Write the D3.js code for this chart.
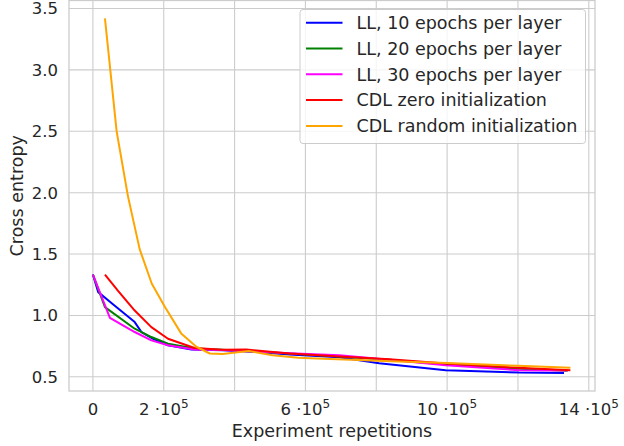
<!DOCTYPE html>
<html>
<head>
<meta charset="utf-8">
<script src="https://cdn.jsdelivr.net/npm/d3@7"></script>
<style>
  body { margin: 0; background: #fff; }
  text { font-family: "DejaVu Sans", sans-serif; fill: #262626; }
</style>
</head>
<body>
<svg id="chart"></svg>
<script>
// values (x in units of 1e5 repetitions)
const seriesNames = ["LL, 10 epochs per layer", "LL, 20 epochs per layer", "LL, 30 epochs per layer",
  "CDL zero initialization", "CDL random initialization"];
const seriesColors = ["#0000ff", "#008000", "#ff00ff", "#ff0000", "#ffa500"];

const blueX = [0, 0.15, 0.6, 1.18, 1.37, 1.7, 2.12, 2.78, 3.66, 4.5, 5.55, 6.96, 8.08, 9.96, 12.03, 13.3];
const blueY = [1.333, 1.19, 1.083, 0.946, 0.865, 0.81, 0.757, 0.722, 0.717, 0.705, 0.681, 0.66, 0.61, 0.554, 0.535, 0.532];

const greenX = [0, 0.34, 1.18, 1.65, 2.12, 2.87, 3.66, 5.55, 6.96, 8.37, 9.96, 12.03, 13.4];
const greenY = [1.333, 1.068, 0.892, 0.824, 0.77, 0.73, 0.72, 0.69, 0.665, 0.64, 0.60, 0.565, 0.55];

const magentaX = [0, 0.48, 1.18, 1.65, 2.12, 2.87, 3.66, 5.55, 6.96, 8.37, 9.96, 12.03, 13.4];
const magentaY = [1.333, 0.98, 0.865, 0.797, 0.757, 0.722, 0.718, 0.692, 0.675, 0.64, 0.595, 0.554, 0.552];

const redX = [0.34, 0.71, 1.18, 1.65, 2.12, 2.87, 3.67, 4.33, 5.55, 6.96, 8.37, 9.96, 12.03, 13.48];
const redY = [1.333, 1.20, 1.04, 0.905, 0.81, 0.735, 0.72, 0.722, 0.69, 0.665, 0.643, 0.608, 0.573, 0.554];

const orangeX = [0.34, 0.67, 0.99, 1.32, 1.66, 2.03, 2.5, 2.92, 3.3, 3.66, 4.4, 5.07, 5.8, 6.5, 7.5, 8.4, 10.0, 12.0, 13.48];
const orangeY = [3.42, 2.50, 1.97, 1.54, 1.26, 1.07, 0.85, 0.745, 0.69, 0.685, 0.71, 0.675, 0.655, 0.648, 0.637, 0.627, 0.613, 0.59, 0.573];

const xTicks = [0, 2, 4, 6, 8, 10, 12, 14];
const xTickLabels = ["0", "2", "", "6", "", "10", "", "14"];
const yTicks = [0.5, 1.0, 1.5, 2.0, 2.5, 3.0, 3.5];

const W = 624, H = 446;
const margin = { top: 0.5, right: 29, bottom: 55, left: 69 };
const tickFont = "16.5px", labelFont = "17.5px";

const svg = d3.select("#chart").attr("width", W).attr("height", H);

const x = d3.scaleLinear().domain([-0.675, 14.175]).range([margin.left, W - margin.right]);
const y = d3.scaleLinear().domain([0.3845, 3.5655]).range([H - margin.bottom, margin.top]);

// grid
svg.append("g")
  .selectAll("line")
  .data(xTicks)
  .join("line")
  .attr("x1", d => x(d)).attr("x2", d => x(d))
  .attr("y1", margin.top).attr("y2", H - margin.bottom)
  .attr("stroke", "#cccccc").attr("stroke-width", 1.1);

svg.append("g")
  .selectAll("line")
  .data(yTicks)
  .join("line")
  .attr("x1", margin.left).attr("x2", W - margin.right)
  .attr("y1", d => y(d)).attr("y2", d => y(d))
  .attr("stroke", "#cccccc").attr("stroke-width", 1.1);

// frame
svg.append("rect")
  .attr("x", margin.left).attr("y", margin.top)
  .attr("width", W - margin.right - margin.left)
  .attr("height", H - margin.bottom - margin.top)
  .attr("fill", "none").attr("stroke", "#cccccc").attr("stroke-width", 1.3);

// tick labels
const xLab = svg.append("g")
  .selectAll("text")
  .data(xTicks.map((t, i) => ({ t: t, lab: xTickLabels[i] })).filter(d => d.lab !== ""))
  .join("text")
  .attr("x", d => x(d.t))
  .attr("y", H - margin.bottom + 24)
  .attr("text-anchor", "middle")
  .style("font-size", tickFont);
xLab.append("tspan").text(d => d.t === 0 ? "0" : d.lab + " \u00b710");
xLab.filter(d => d.t !== 0).append("tspan")
  .attr("dy", -7).style("font-size", "12px").text("5");

svg.append("g")
  .selectAll("text")
  .data(yTicks)
  .join("text")
  .attr("x", margin.left - 11)
  .attr("y", d => y(d))
  .attr("dy", "0.36em")
  .attr("text-anchor", "end")
  .style("font-size", tickFont)
  .text(d => d.toFixed(1));

// axis titles
svg.append("text")
  .attr("x", (margin.left + W - margin.right) / 2)
  .attr("y", H - 9.5)
  .attr("text-anchor", "middle")
  .style("font-size", labelFont)
  .text("Experiment repetitions");

svg.append("text")
  .attr("transform", "translate(23," + ((margin.top + H - margin.bottom) / 2) + ") rotate(-90)")
  .attr("text-anchor", "middle")
  .style("font-size", labelFont)
  .text("Cross entropy");

// lines
const allX = [blueX, greenX, magentaX, redX, orangeX];
const allY = [blueY, greenY, magentaY, redY, orangeY];
const line = d3.line().x(d => x(d[0])).y(d => y(d[1]));

allX.forEach((xs, i) => {
  svg.append("path")
    .datum(xs.map((v, j) => [v, allY[i][j]]))
    .attr("d", line)
    .attr("fill", "none")
    .attr("stroke", seriesColors[i])
    .attr("stroke-width", 2)
    .attr("stroke-linejoin", "round");
});

// legend
const lg = svg.append("g").attr("transform", "translate(300,9.5)");
lg.append("rect")
  .attr("width", 285.5).attr("height", 134)
  .attr("rx", 3)
  .attr("fill", "rgba(255,255,255,0.8)")
  .attr("stroke", "#cccccc").attr("stroke-width", 1);
seriesNames.forEach((name, i) => {
  const yy = 13.2 + i * 25.8;
  lg.append("line")
    .attr("x1", 6).attr("x2", 42.5)
    .attr("y1", yy).attr("y2", yy)
    .attr("stroke", seriesColors[i]).attr("stroke-width", 2);
  lg.append("text")
    .attr("x", 56.5).attr("y", yy).attr("dy", "0.36em")
    .style("font-size", labelFont)
    .text(name);
});
</script>
</body>
</html>
